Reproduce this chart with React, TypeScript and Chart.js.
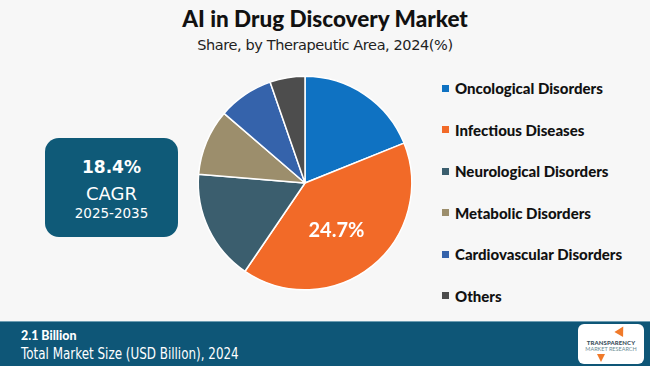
import React, { useEffect, useRef } from "react";
import { Chart, registerables } from "chart.js";

Chart.register(...registerables);

const categories = [
  "Oncological Disorders",
  "Infectious Diseases",
  "Neurological Disorders",
  "Metabolic Disorders",
  "Cardiovascular Disorders",
  "Others",
];
const shares = [18.9, 40.6, 16.8, 10.0, 8.4, 5.3];
const sliceLabels = ["", "24.7%", "", "", "", ""];
const colors = ["#0f72c2", "#f26a28", "#3b5e6e", "#9c8e6c", "#3563ab", "#4d4d4d"];

const title = "AI in Drug Discovery Market";
const subtitle = "Share, by Therapeutic Area, 2024(%)";
const cagrValue = "18.4%";
const cagrLabel = "CAGR";
const cagrPeriod = "2025-2035";
const marketSize = "2.1 Billion";
const marketSizeLabel = "Total Market Size (USD Billion), 2024";

const labelPlugin = {
  id: "sliceLabels",
  afterDatasetsDraw(chart: any) {
    const meta = chart.getDatasetMeta(0);
    const ctx = chart.ctx;
    ctx.save();
    meta.data.forEach((arc: any, i: number) => {
      const text = sliceLabels[i];
      if (!text) return;
      const { startAngle, endAngle, outerRadius, x, y } = arc.getProps(
        ["startAngle", "endAngle", "outerRadius", "x", "y"],
        true
      );
      const mid = (startAngle + endAngle) / 2 + 0.09;
      const r = outerRadius * 0.53;
      ctx.fillStyle = "#ffffff";
      ctx.font = "bold 20px Lato, 'Open Sans', sans-serif";
      ctx.textAlign = "center";
      ctx.textBaseline = "middle";
      ctx.fillText(text, x + Math.cos(mid) * r, y + Math.sin(mid) * r);
    });
    ctx.restore();
  },
};

export default function App() {
  const canvasRef = useRef<HTMLCanvasElement | null>(null);

  useEffect(() => {
    document.body.style.margin = "0";
    const chart = new Chart(canvasRef.current!, {
      type: "pie",
      data: {
        labels: categories,
        datasets: [
          {
            data: shares,
            backgroundColor: colors,
            borderColor: "#ffffff",
            borderWidth: 1.5,
          },
        ],
      },
      options: {
        animation: false,
        responsive: false,
        maintainAspectRatio: false,
        layout: { padding: 7.5 },
        plugins: {
          legend: { display: false },
          tooltip: { enabled: false },
        },
      },
      plugins: [labelPlugin],
    });
    return () => chart.destroy();
  }, []);

  return (
    <div
      style={{
        position: "relative",
        width: 650,
        height: 366,
        background: "#f7f7f7",
        overflow: "hidden",
        fontFamily: "Lato, 'Open Sans', sans-serif",
      }}
    >
      <div
        style={{
          position: "absolute",
          top: 6,
          left: 0,
          width: 650,
          textAlign: "center",
          fontSize: 22.5,
          fontWeight: 900,
          color: "#111",
          lineHeight: "26px",
        }}
      >
        {title}
      </div>
      <div
        style={{
          position: "absolute",
          top: 35,
          left: 0,
          width: 650,
          textAlign: "center",
          fontSize: 14.5,
          color: "#222",
          lineHeight: "20px",
          fontFamily: "'DejaVu Sans', sans-serif",
          letterSpacing: -0.4,
        }}
      >
        {subtitle}
      </div>

      <canvas
        ref={canvasRef}
        width={230}
        height={230}
        style={{ position: "absolute", left: 190, top: 68, width: 230, height: 230 }}
      />

      <div
        style={{
          position: "absolute",
          left: 45,
          top: 138,
          width: 133,
          height: 99,
          background: "#0f5a78",
          borderRadius: 14,
          color: "#fff",
          textAlign: "center",
          fontFamily: "'DejaVu Sans', sans-serif",
        }}
      >
        <div style={{ position: "absolute", top: 18, width: "100%", fontSize: 17, fontWeight: 700, lineHeight: "22px" }}>
          {cagrValue}
        </div>
        <div style={{ position: "absolute", top: 45, width: "100%", fontSize: 18, lineHeight: "22px" }}>
          {cagrLabel}
        </div>
        <div style={{ position: "absolute", top: 66, width: "100%", fontSize: 13.5, lineHeight: "18px" }}>
          {cagrPeriod}
        </div>
      </div>

      {categories.map((c, i) => (
        <div
          key={c}
          style={{
            position: "absolute",
            left: 442,
            top: 78 + i * 41.5,
            height: 20,
            display: "flex",
            alignItems: "center",
            fontSize: 15,
            fontWeight: 900,
            color: "#111",
          }}
        >
          <span style={{ display: "inline-block", width: 7, height: 7, background: colors[i], marginRight: 6 }} />
          {c}
        </div>
      ))}

      <div
        style={{
          position: "absolute",
          left: 0,
          top: 321,
          width: 650,
          height: 45,
          background: "#0e5677",
          borderTop: "1px solid #6e9db2",
          boxSizing: "border-box",
        }}
      >
        <div
          style={{
            position: "absolute",
            left: 21,
            top: 4,
            fontSize: 13.5,
            fontWeight: 900,
            color: "#fff",
            lineHeight: "18px",
            transformOrigin: "left center",
            transform: "scaleX(0.92)",
          }}
        >
          {marketSize}
        </div>
        <div
          style={{
            position: "absolute",
            left: 21,
            top: 22,
            fontSize: 15.5,
            color: "#fff",
            lineHeight: "20px",
            fontFamily: "'DejaVu Sans', sans-serif",
            whiteSpace: "nowrap",
            transformOrigin: "left center",
            transform: "scaleX(0.77)",
          }}
        >
          {marketSizeLabel}
        </div>
        <div
          style={{
            position: "absolute",
            left: 578,
            top: 2,
            width: 66,
            height: 40,
            background: "#fff",
            borderRadius: 6,
            textAlign: "center",
          }}
        >
          <div
            style={{
              position: "absolute",
              left: 38,
              top: 2,
              width: 0,
              height: 0,
              borderLeft: "5px solid transparent",
              borderRight: "5px solid transparent",
              borderBottom: "9px solid #f07a2a",
              transform: "rotate(30deg)",
            }}
          />
          <div style={{ position: "absolute", top: 15, width: "100%", fontSize: 6, fontWeight: 900, color: "#3b4f5c", letterSpacing: 0.1 }}>
            TRANSPARENCY
          </div>
          <div style={{ position: "absolute", top: 22, width: "100%", fontSize: 5.5, color: "#6a8a93" }}>
            MARKET RESEARCH
          </div>
          <div
            style={{
              position: "absolute",
              left: 19,
              top: 30,
              width: 0,
              height: 0,
              borderLeft: "4px solid transparent",
              borderRight: "4px solid transparent",
              borderTop: "8px solid #f07a2a",
            }}
          />
        </div>
      </div>
    </div>
  );
}
